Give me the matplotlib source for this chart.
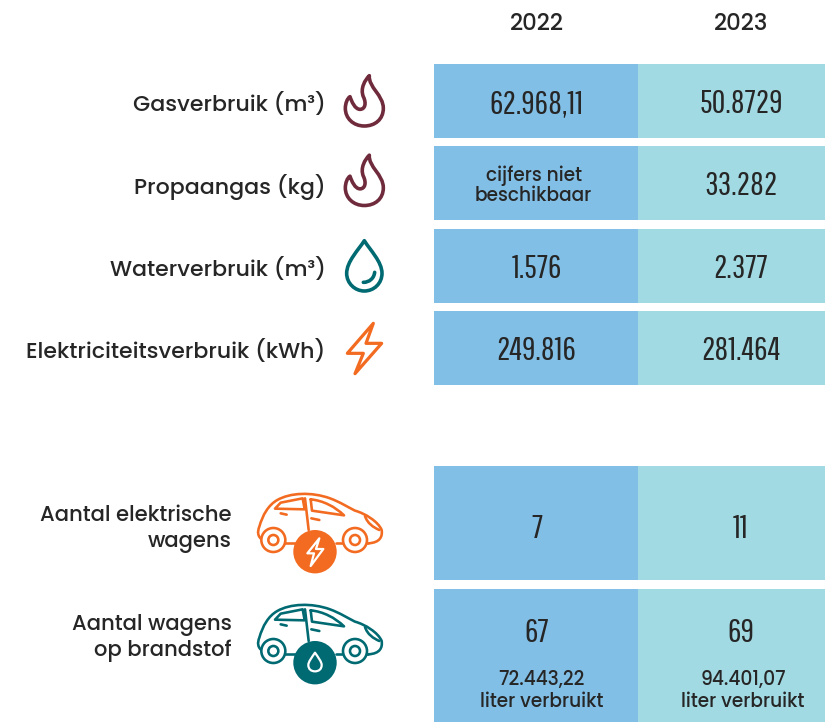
import matplotlib
matplotlib.use("Agg")
import matplotlib.pyplot as plt
from matplotlib.path import Path
from matplotlib.patches import PathPatch, Rectangle, Circle

years = ["2022", "2023"]
row_labels = ["Gasverbruik (m³)", "Propaangas (kg)", "Waterverbruik (m³)", "Elektriciteitsverbruik (kWh)"]
values_2022 = ["62.968,11", "", "1.576", "249.816"]
values_2023 = ["50.8729", "33.282", "2.377", "281.464"]
note_2022 = "cijfers niet\nbeschikbaar"
car_labels = ["Aantal elektrische\nwagens", "Aantal wagens\nop brandstof"]
cars_2022 = ["7", "67"]
cars_2023 = ["11", "69"]
fuel_2022 = "72.443,22\nliter verbruikt"
fuel_2023 = "94.401,07\nliter verbruikt"

BLUE, TEAL = "#82BFE6", "#A2DAE3"
WINE, PETROL, ORANGE, INK = "#6F2A3B", "#006A72", "#F26B21", "#262626"
NARROW = ["Pathway Gothic One", "Bebas Neue", "Liberation Sans"]
SANS = ["Poppins", "Inter", "DejaVu Sans"]

fig = plt.figure(figsize=(8.25, 7.22), dpi=100)
ax = fig.add_axes([0, 0, 1, 1])
ax.set_xlim(0, 825)
ax.set_ylim(722, 0)
ax.axis("off")

X0, X1, X2 = 434, 638, 825
rows = [(64, 138), (146, 220), (229, 303), (311, 385), (466, 580), (589, 722)]
for top, bot in rows:
    ax.add_patch(Rectangle((X0, top), X1 - X0, bot - top, fc=BLUE, ec="none"))
    ax.add_patch(Rectangle((X1, top), X2 - X1, bot - top, fc=TEAL, ec="none"))

XA, XB = 536.5, 741
def sans(x, y, s, size, ha="center", spacing=1.0, **k):
    ax.text(x, y, s, fontsize=size, ha=ha, va="center", family=SANS, weight=500,
            color=INK, linespacing=spacing, **k)
def num(x, y, s, size=24):
    ax.text(x, y, s, fontsize=size, ha="center", va="center", family=NARROW, color=INK)

for x, y in zip((XA, XB), years):
    sans(x, 25, y, 16.4)

for i, lab in enumerate(row_labels):
    top, bot = rows[i]
    cy = (top + bot) / 2
    sans(325.5, cy + 4, lab, 15.9, ha="right")
    if values_2022[i]:
        num(XA, cy + 3, values_2022[i])
    else:
        sans(XA - 3, cy + 3, note_2022, 13.4)
    num(XB, cy + 3, values_2023[i])

for lab, y, a, b, ya in zip(car_labels, (529, 638), cars_2022, cars_2023, (529, 633)):
    sans(232, y, lab, 15.2, ha="right", spacing=1.22, multialignment="right")
    num(XA, ya, a)
    num(XB, ya, b)
sans(XA + 5, 691, fuel_2022, 13.4, spacing=1.1)
sans(XB + 2, 691, fuel_2023, 13.4, spacing=1.1)

M, L, C, Z = Path.MOVETO, Path.LINETO, Path.CURVE4, Path.CLOSEPOLY
def curve(start, segs, close=False):
    v, c = [start], [M]
    for s in segs:
        if len(s) == 3:
            v += list(s); c += [C, C, C]
        else:
            v.append(s[0]); c.append(L)
    if close:
        v.append(start); c.append(Z)
    return v, c
def draw(v, c, ox, oy, color, lw, fill="none", k=1/3):
    pts = [(ox + x * k, oy + y * k) for x, y in v]
    ax.add_patch(PathPatch(Path(pts, c), fc=fill, ec=color, lw=lw * 0.72,
                           capstyle="round", joinstyle="round"))

flame = curve((118, 47), [((115, 82), (160, 105), (160, 145)),
                          ((160, 178), (135, 198), (103, 198)),
                          ((70, 198), (46, 175), (46, 145)),
                          ((46, 130), (52, 115), (60, 110)),
                          ((65, 125), (75, 148), (90, 148)),
                          ((105, 148), (110, 130), (100, 110)),
                          ((90, 85), (105, 60), (118, 47))], True)
draw(*flame, 330, 60, WINE, 3.6)
draw(*flame, 330, 139.5, WINE, 3.6)

drop = curve((103, 47), [((85, 75), (50, 110), (50, 145)),
                         ((50, 175), (75, 198), (103, 198)),
                         ((132, 198), (156, 175), (156, 145)),
                         ((156, 110), (120, 75), (103, 47))], True)
draw(*drop, 330, 225, PETROL, 3.6)
shine = curve((100, 172), [((118, 172), (132, 160), (134, 142))])
draw(*shine, 330, 225, PETROL, 3.6)

bolt = [(130, 295), (52, 385), (100, 385), (75, 446), (155, 355), (108, 355), (130, 295)]
draw(bolt, [M, L, L, L, L, L, Z], 330, 225, ORANGE, 3.2, k=1/3)

def car(oy, color, white_icon):
    ox = 240
    lw = 2.6
    body = curve((68, 180), [((52, 170), (52, 155), (58, 140)),
                             ((68, 105), (85, 75), (112, 60)),
                             ((150, 38), (215, 35), (270, 55)),
                             ((300, 66), (325, 82), (345, 92)),
                             ((375, 100), (415, 125), (425, 150)),
                             ((428, 170), (420, 188), (385, 190))])
    draw(*body, ox, oy, color, lw)
    win1 = [(105, 86), (122, 68), (188, 55), (194, 88), (105, 86)]
    draw(win1, [M, L, L, L, Z], ox, oy, color, lw)
    win2 = curve((212, 58), [((250, 62), (285, 80), (312, 106)), ((216, 92),), ((212, 58),)])
    draw(*win2, ox, oy, color, lw)
    for seg in ([(195, 55), (206, 150)], [(122, 100), (140, 104)], [(214, 115), (238, 120)],
                [(130, 188), (165, 188)], [(288, 188), (315, 188)], [(375, 190), (385, 190)]):
        draw(seg, [M, L], ox, oy, color, lw)
    lamp = curve((375, 108), [((382, 130), (400, 142), (418, 150))])
    draw(*lamp, ox, oy, color, lw)
    for wx in (100, 345):
        ax.add_patch(Circle((ox + wx / 3, oy + 60), 12, fc="white", ec=color, lw=lw * 0.72))
        ax.add_patch(Circle((ox + wx / 3, oy + 60), 5, fc="white", ec=color, lw=lw * 0.72))
    ax.add_patch(Circle((ox + 75, oy + 71.7), 21.7, fc=color, ec="none", zorder=3))
    p = white_icon
    patch = PathPatch(Path([(ox + x / 3, oy + y / 3) for x, y in p[0]], p[1]), fc="none",
                      ec="white", lw=1.6, zorder=4, joinstyle="round")
    ax.add_patch(patch)

small_bolt = ([(238, 175), (202, 220), (222, 220), (212, 258), (250, 207), (228, 207), (238, 175)],
              [M, L, L, L, L, L, Z])
small_drop = curve((225, 185), [((215, 200), (205, 212), (205, 222)),
                                ((205, 235), (214, 241), (225, 241)),
                                ((236, 241), (245, 235), (245, 222)),
                                ((245, 212), (235, 200), (225, 185))], True)
car(480, ORANGE, small_bolt)
car(591, PETROL, small_drop)

fig.savefig("out.png", dpi=100, facecolor="white")
